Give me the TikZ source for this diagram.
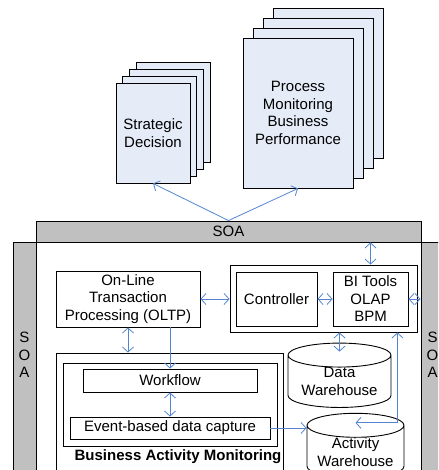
\documentclass[tikz,border=0pt]{standalone}
\usepackage{fontspec}
\setmainfont{Liberation Sans}
\usetikzlibrary{arrows.meta,positioning,shapes.geometric}
\definecolor{pagefill}{RGB}{230,236,247}
\definecolor{soagray}{RGB}{192,192,192}
\definecolor{linkblue}{RGB}{84,132,208}
\newcommand{\txt}{\fontsize{15}{17.5}\selectfont}

\begin{document}
\begin{tikzpicture}[x=1pt,y=-1pt, every node/.style={font=\txt},
        page/.style={rectangle,draw,fill=pagefill,line width=0.9pt,align=center},
        bar/.style={rectangle,draw,fill=soagray,line width=0.9pt},
        box/.style={rectangle,draw,fill=white,line width=0.9pt,align=center},
        store/.style={cylinder,shape border rotate=90,aspect=0.315,draw,fill=white,
          line width=0.9pt,align=center,inner sep=0pt},
        link/.style={{Straight Barb[length=5pt,width=11pt]}-{Straight Barb[length=5pt,width=11pt]},
          draw=linkblue,line width=0.8pt},
        flow/.style={-{Straight Barb[length=5pt,width=11pt]},draw=linkblue,line width=0.8pt}]
        \useasboundingbox (0,0) rectangle (438,470);
        \clip (0,0) rectangle (438,470);
        % page stacks
        \foreach \k in {3,2,1}
          \node[page,minimum width=74,minimum height=100] at (153+\k*6.7,133-\k*6.7) {};
        \node[page,minimum width=74,minimum height=100] (strat) at (153,133) {Strategic\\Decision};
        \foreach \k in {3,2,1}
          \node[page,minimum width=110,minimum height=150] at (298+\k*10,113-\k*10) {};
        \node[page,minimum width=110,minimum height=150] (proc) at (298,113)
          {Process\\Monitoring\\Business\\Performance};
        % SOA frame
        \node[bar,minimum width=385,minimum height=21] (soatop) at (228.5,231.5) {SOA};
        \node[bar,minimum width=23,minimum height=250] (soaleft) at (24.5,367) {};
        \node[bar,minimum width=23,minimum height=250] (soaright) at (432.5,367) {};
        \node[align=center] (soaltxt) at (24.5,355) {S\\O\\A};
        \node[align=center] (soartxt) at (432.5,355) {S\\O\\A};
        % inner blocks
        \node[box,minimum width=144,minimum height=56] (oltp) at (128,299)
          {On-Line\\Transaction\\Processing (OLTP)};
        \node[box,minimum width=187,minimum height=67] (biframe) at (323.5,298.5) {};
        \node[box,minimum width=81,minimum height=54] (ctrl) at (276.5,299) {Controller};
        \node[box,minimum width=75,minimum height=54] (bi) at (370.5,299) {BI Tools\\OLAP\\BPM};
        \node[box,minimum width=227,minimum height=137] (bam) at (169.5,421.5) {};
        \node[box,minimum width=214,minimum height=83] (baminner) at (170,404.5) {};
        \node[box,minimum width=174,minimum height=23] (wf) at (170,380.5) {Workflow};
        \node[box,minimum width=200,minimum height=22] (event) at (170,428) {Event-based data capture};
        \node[font=\txt\bfseries] (bamlabel) at (178,457) {Business Activity Monitoring};
        \node[store,minimum width=103] (dw) at (339.5,381.5) {Data\\Warehouse};
        \node[store,minimum width=97] (aw) at (355.5,452) {Activity\\Warehouse};
        \coordinate (dwtop) at ([yshift=-9pt]dw.north);
        \coordinate (awin) at ([yshift=-10pt]aw.north);
        % connectors
        \draw[flow] (soatop.north) -- (strat.south);
        \draw[flow] (soatop.north) -- (proc.south);
        \draw[link] (bi.north |- soatop.south) -- (bi.north |- biframe.north);
        \draw[link] (oltp.east) -- (oltp.east -| biframe.west);
        \draw[link] (ctrl.east) -- (bi.west);
        \draw[link] (bi.east) -- (bi.east -| soaright.west);
        \draw[link] (oltp.south) -- (oltp.south |- bam.north);
        \draw[flow] (oltp.south -| wf.north) -- (wf.north);
        \draw[link] (wf.south) -- (event.north);
        \draw[flow] (event.east) -- (event.east -| aw.west);
        \draw[link] (biframe.south -| dwtop) -- (dwtop);
        \draw[link] (awin) -| ([xshift=-20pt]biframe.south east);
      \end{tikzpicture}
\end{document}
